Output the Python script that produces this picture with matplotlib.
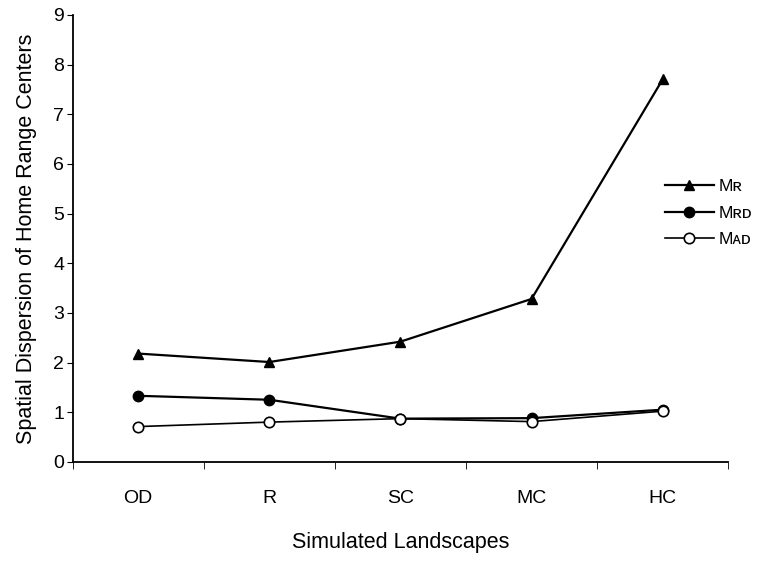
import numpy as np
import matplotlib.pyplot as plt

plt.rcParams['font.family'] = ['Liberation Sans', 'DejaVu Sans']

# data
landscapes = ['OD', 'R', 'SC', 'MC', 'HC']
m_r = [2.18, 2.01, 2.42, 3.28, 7.70]
m_rd = [1.33, 1.25, 0.87, 0.88, 1.05]
m_ad = [0.71, 0.80, 0.87, 0.81, 1.02]

x = np.arange(len(landscapes))

fig = plt.figure(figsize=(7.73, 5.73), dpi=100)
ax = fig.add_axes([0.094, 0.194, 0.848, 0.78])

ax.plot(x, m_r, color='black', lw=1.6, marker='^', ms=7.5, label='M\u0280')
ax.plot(x, m_rd, color='black', lw=1.6, marker='o', ms=7.5, label='M\u0280\u1d05')
ax.plot(x, m_ad, color='black', lw=1.2, marker='o', ms=7.5, mfc='white', mec='black', mew=1.2,
        label='M\u1d00\u1d05')

ax.set_xlim(-0.5, len(landscapes) - 0.5)
ax.set_ylim(0, 9)
ax.set_yticks(range(0, 10))
ax.set_xticks(x)
ax.set_xticklabels(landscapes)
ax.set_xticks(np.arange(-0.5, len(landscapes)), minor=True)
ax.tick_params(axis='x', which='major', length=0, pad=20, labelsize=14)
ax.tick_params(axis='x', which='minor', length=5, direction='out')
ax.tick_params(axis='y', length=4, direction='out', labelsize=14, pad=2)

for side in ['top', 'right']:
    ax.spines[side].set_visible(False)
ax.spines['left'].set_linewidth(1.3)
ax.spines['bottom'].set_linewidth(1.3)

ax.set_xlabel('Simulated Landscapes', fontsize=15.5, labelpad=18)
ax.set_ylabel('Spatial Dispersion of Home Range Centers', fontsize=15.5, labelpad=12)

fig.legend(loc='center left', bbox_to_anchor=(0.84, 0.628), frameon=False,
           handlelength=2.8, handletextpad=0.3, labelspacing=0.65, fontsize=12.5)

fig.savefig('out.png', dpi=100)
